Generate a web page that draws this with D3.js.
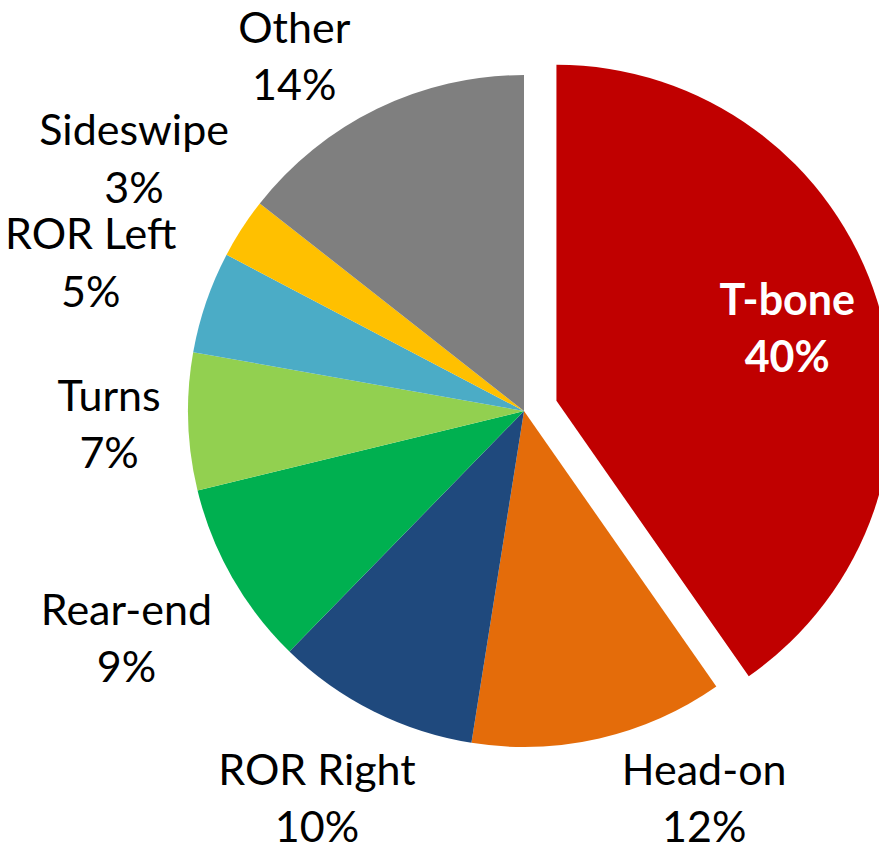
<!DOCTYPE html>
<html>
<head>
<meta charset="utf-8">
<script src="https://cdn.jsdelivr.net/npm/d3@7"></script>
<style>
  html, body { margin: 0; padding: 0; background: #fff; }
  svg { display: block; }
</style>
</head>
<body>
<div id="chart"></div>
<script>
// Crash types (clockwise from 12 o'clock)
const categories = ["T-bone", "Head-on", "ROR Right", "Rear-end", "Turns", "ROR Left", "Sideswipe", "Other"];
const shares = [40.3, 12.2, 9.8, 8.9, 6.6, 4.9, 2.9, 14.4];
const shareLabels = ["40%", "12%", "10%", "9%", "7%", "5%", "3%", "14%"];
const colors = ["#C00000", "#E46C0A", "#1F497D", "#00B050", "#92D050", "#4BACC6", "#FFC000", "#7F7F7F"];
const explodedSlice = "T-bone";

const width = 879, height = 852;
const cx = 524, cy = 411, radius = 336;
const explode = 34;
const fontSize = 43, lineGap = 57.5, capHalf = 15.5;
const padX = 26, boxHalfH = 50;

const rows = categories.map((c, i) => ({ name: c, value: shares[i], label: shareLabels[i], color: colors[i] }));

const svg = d3.select("#chart")
    .append("svg")
    .attr("width", width)
    .attr("height", height);

const pie = d3.pie().sort(null).value(d => d.value);
const arcs = pie(rows);

const arc = d3.arc().innerRadius(0).outerRadius(radius);

const g = svg.append("g").attr("transform", `translate(${cx},${cy})`);

function offsetOf(d) {
    if (d.data.name !== explodedSlice) return [0, 0];
    const a = (d.startAngle + d.endAngle) / 2;
    return [Math.sin(a) * explode, -Math.cos(a) * explode];
}

g.selectAll("path")
    .data(arcs)
    .join("path")
    .attr("d", arc)
    .attr("fill", d => d.data.color)
    .attr("transform", d => `translate(${offsetOf(d)})`);

// Labels
const labels = svg.append("g")
    .style("font-family", "Lato, 'Open Sans', sans-serif")
    .style("font-size", fontSize + "px");

function setPos(lab, x, y) {
    lab.l1.attr("x", x).attr("y", y - lineGap / 2 + capHalf);
    lab.l2.attr("x", x).attr("y", y + lineGap / 2 + capHalf);
}

function writeLabel(d) {
    const t = labels.append("text")
        .attr("text-anchor", "middle")
        .attr("fill", d.data.name === explodedSlice ? "#fff" : "#000")
        .attr("font-weight", d.data.name === explodedSlice ? 700 : 400);
    const lab = { t, l1: t.append("tspan").text(d.data.name), l2: t.append("tspan").text(d.data.label) };
    setPos(lab, 0, 0);
    const bb = t.node().getBBox();
    lab.w = bb.width;
    lab.top = bb.y;            // extent above the block centre
    lab.bottom = bb.y + bb.height;
    return lab;
}

arcs.forEach(d => {
    const lab = writeLabel(d);
    const mid = (d.startAngle + d.endAngle) / 2;
    if (d.data.name === explodedSlice) {
        const off = offsetOf(d);
        const rr = radius * 0.72;
        setPos(lab, cx + off[0] + Math.sin(mid) * rr, cy + off[1] - Math.cos(mid) * rr);
        return;
    }
    const hw = lab.w / 2;
    const place = a => {
        const s = Math.sin(a), c = -Math.cos(a);
        const dist = radius + Math.abs(s) * (hw + padX) + Math.abs(c) * boxHalfH;
        return [cx + s * dist, cy + c * dist];
    };
    const fits = p => p[1] + lab.top >= 0 && p[1] + lab.bottom <= height && p[0] - hw >= 0 && p[0] + hw <= width;
    // slide along the rim, away from the nearest pole, until the box fits
    let a = mid;
    const upper = Math.cos(a) > 0;
    const dir = upper ? (a < Math.PI ? 1 : -1) : (a < Math.PI ? -1 : 1);
    let p = place(a);
    for (let k = 0; k < 180 && !fits(p); k++) {
        a += dir * Math.PI / 360;
        p = place(a);
    }
    setPos(lab, p[0], p[1]);
});
</script>
</body>
</html>
